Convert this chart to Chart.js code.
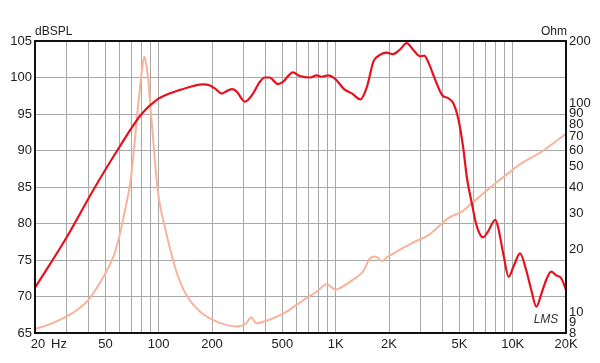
<!DOCTYPE html>
<html><head><meta charset="utf-8">
<script src="https://cdn.jsdelivr.net/npm/chart.js@4/dist/chart.umd.min.js"></script>
<style>html,body{margin:0;padding:0;background:#fff;}</style>
</head><body>
<canvas id="c" width="600" height="363" style="display:block"></canvas>
<script>
// SPL response (dB) vs frequency (Hz)
const splFreq = [20,29.5,43.7,58.3,80,97,115,132,155,178,195,210,227,245,260,275,307,341,370,396,423,471,503,573,627,715,779,832,906,1000,1115,1238,1380,1500,1635,1780,1945,2105,2300,2520,2740,3000,3165,3360,3660,3990,4330,4610,4940,5270,5500,5870,6270,6800,7250,7970,8250,8900,9480,10100,11000,11920,12730,13600,14530,15480,16490,17600,18800,20000];
const splDb   = [71.2,77.7,85,90,95,96.9,97.8,98.3,98.8,99.05,98.9,98.4,97.8,98.2,98.4,98.1,96.7,97.8,99.3,100.0,100.0,99.1,99.4,100.7,100.2,100.0,100.3,100.1,100.3,99.75,98.4,97.8,97.0,98.7,102.2,103.1,103.4,103.2,103.8,104.7,103.8,102.9,103.0,101.9,99.6,97.6,97.15,96.5,94.2,90.1,86.4,82.8,79.6,78.1,78.9,80.5,79.6,75.5,72.7,74.1,75.9,73.6,70.9,68.6,70.4,72.3,73.4,72.9,72.5,70.9];
// Impedance (Ohm) vs frequency (Hz)
const impFreq = [20,25,30.2,35,40,48.8,55.5,59.2,62,65,68.8,72,75.1,78,80,82.9,85,87.3,90,93.1,96,99,103,108,115.8,126.6,143,171,202,240,275,293,312,333,356,406,504,600,687,779,890,1000,1054,1253,1430,1560,1670,1830,1960,2300,2740,3360,4330,5170,5870,7000,8000,10000,10500,15000,20000];
const impOhm  = [8.36,8.9,9.6,10.4,11.5,14.9,18.6,22.3,26.5,32,41,57,84,115,140,168,155,130,95,67,49,38,31,26,20.3,15.5,12.2,10.15,9.25,8.75,8.6,8.65,8.9,9.5,8.9,9.15,9.9,10.9,11.8,12.6,13.7,12.9,13.1,14.4,15.8,18.2,18.6,17.7,18.5,20,21.7,23.6,28.4,30.5,33.4,38,41.7,48.3,50,60,72];
// Axis ticks
const xGridFreqs = [20,30,40,50,60,70,80,90,100,200,300,400,500,600,700,800,900,1000,2000,3000,4000,5000,6000,7000,8000,9000,10000,20000];
const xTickLabels = {50:'50',100:'100',200:'200',500:'500',1000:'1K',2000:'2K',5000:'5K',10000:'10K',20000:'20K'};
const ohmTicks = [8,9,10,20,30,40,50,60,70,80,90,100,200];

const FONT = "'Liberation Sans', Arial, sans-serif";
const GRID = '#a9a9a9';

const decor = {
  id: 'decor',
  afterDraw(chart) {
    const ctx = chart.ctx, a = chart.chartArea, xs = chart.scales.x;
    ctx.save();
    ctx.strokeStyle = '#111';
    ctx.lineWidth = 2;
    ctx.strokeRect(a.left, a.top, a.right - a.left, a.bottom - a.top);
    ctx.fillStyle = '#222';
    ctx.font = '13px ' + FONT;
    ctx.textBaseline = 'middle';
    ctx.textAlign = 'center';
    const x20 = xs.getPixelForValue(20);
    ctx.fillText('20', x20 + 3, a.bottom + 11);
    ctx.textAlign = 'left';
    ctx.fillText('Hz', x20 + 16, a.bottom + 11);
    ctx.font = '12px ' + FONT;
    ctx.textAlign = 'left';
    ctx.fillText('dBSPL', a.left, a.top - 9);
    ctx.textAlign = 'right';
    ctx.fillText('Ohm', a.right + 1, a.top - 9);
    ctx.font = 'italic 12px ' + FONT;
    ctx.textAlign = 'center';
    ctx.fillStyle = '#333';
    ctx.fillText('LMS', a.right - 20, a.bottom - 13);
    ctx.restore();
  }
};

new Chart(document.getElementById('c'), {
  type: 'line',
  data: {
    datasets: [
      {
        label: 'SPL',
        data: splFreq.map((f, i) => ({x: f, y: splDb[i]})),
        borderColor: '#e5121d',
        borderWidth: 2.2,
        pointRadius: 0,
        cubicInterpolationMode: 'monotone',
        yAxisID: 'y',
        order: 0
      },
      {
        label: 'Impedance',
        data: impFreq.map((f, i) => ({x: f, y: impOhm[i]})),
        borderColor: '#f8b39b',
        borderWidth: 2,
        pointRadius: 0,
        cubicInterpolationMode: 'monotone',
        yAxisID: 'y2',
        order: 1
      }
    ]
  },
  options: {
    responsive: false,
    animation: false,
    devicePixelRatio: 1,
    layout: {padding: {top: 41, left: 0, right: 0, bottom: 0}},
    plugins: {legend: {display: false}, tooltip: {enabled: false}},
    scales: {
      x: {
        type: 'logarithmic',
        min: 20, max: 20000,
        afterBuildTicks: s => { s.ticks = xGridFreqs.map(v => ({value: v})); },
        afterFit: s => { s.height = 30; },
        grid: {color: GRID, lineWidth: 1, drawTicks: false},
        border: {display: false},
        ticks: {
          autoSkip: false, maxRotation: 0, minRotation: 0, padding: 4,
          color: '#222', font: {family: FONT, size: 13},
          callback: v => xTickLabels[v] || ''
        }
      },
      y: {
        type: 'linear', position: 'left',
        min: 65, max: 105,
        afterFit: s => { s.width = 35; },
        grid: {color: GRID, lineWidth: 1, drawTicks: false},
        border: {display: false},
        ticks: {stepSize: 5, padding: 3, color: '#222', font: {family: FONT, size: 13}}
      },
      y2: {
        type: 'logarithmic', position: 'right',
        min: 8, max: 200,
        afterBuildTicks: s => { s.ticks = ohmTicks.map(v => ({value: v})); },
        afterFit: s => { s.width = 34; },
        grid: {display: false, drawTicks: false},
        border: {display: false},
        ticks: {autoSkip: false, padding: 3, color: '#222', font: {family: FONT, size: 13},
          callback: v => String(v)}
      }
    }
  },
  plugins: [decor]
});
</script>
</body></html>
